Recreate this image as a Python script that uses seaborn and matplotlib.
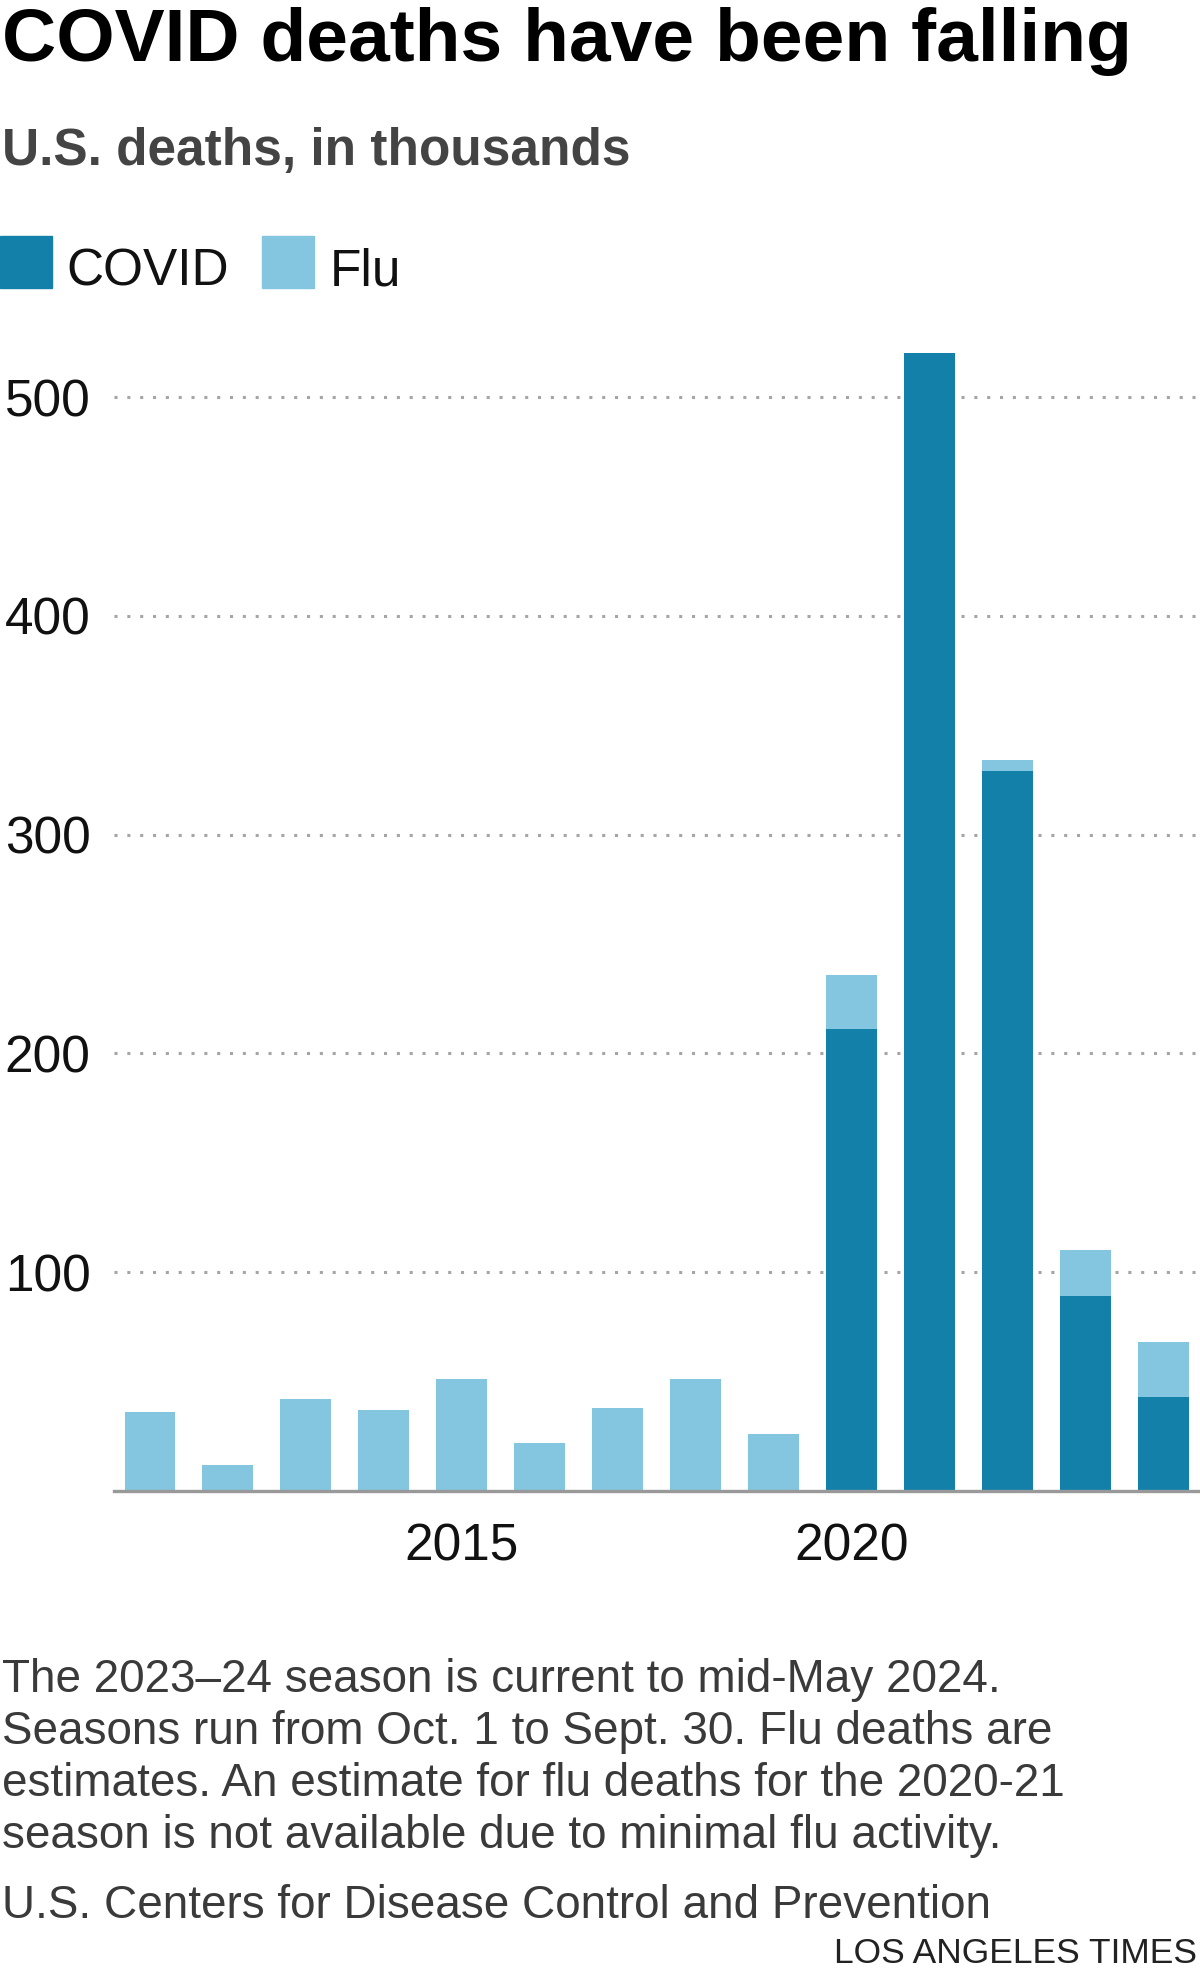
import seaborn as sns
import matplotlib.pyplot as plt
import pandas as pd
from matplotlib.patches import Rectangle

# datos (miles de muertes por temporada)
seasons = ["2010-11", "2011-12", "2012-13", "2013-14", "2014-15", "2015-16", "2016-17",
           "2017-18", "2018-19", "2019-20", "2020-21", "2021-22", "2022-23", "2023-24"]
covid = [0, 0, 0, 0, 0, 0, 0, 0, 0, 211, 520, 329, 89, 43]
flu = [36, 12, 42, 37, 51, 22, 38, 51, 26, 25, 0, 5, 21, 25]
x_tick_labels = ["2015", "2020"]
x_tick_seasons = ["2014-15", "2019-20"]
y_ticks = [100, 200, 300, 400, 500]

notes = [
    "The 2023\u201324 season is current to mid-May 2024.",
    "Seasons run from Oct. 1 to Sept. 30. Flu deaths are",
    "estimates. An estimate for flu deaths for the 2020-21",
    "season is not available due to minimal flu activity.",
]
source = "U.S. Centers for Disease Control and Prevention"

COVID_COLOR = "#1380A9"
FLU_COLOR = "#84C6E0"

df = pd.DataFrame({"season": seasons, "covid": covid, "flu": flu})
df["total"] = df["covid"] + df["flu"]

sns.set_style("white")
plt.rcParams["font.family"] = ["Liberation Sans Narrow", "Liberation Sans", "DejaVu Sans"]

W, H = 1200, 1984
fig = plt.figure(figsize=(W / 100, H / 100), dpi=100)
ax = fig.add_axes([114 / W, 1 - 1491 / H, 1 - 114 / W, (1491 - 338) / H])

# barras apiladas: total (gripe) detras, covid encima
sns.barplot(data=df, x="season", y="total", color=FLU_COLOR, width=0.65,
            saturation=1, errorbar=None, ax=ax, edgecolor="none")
sns.barplot(data=df, x="season", y="covid", color=COVID_COLOR, width=0.65,
            saturation=1, errorbar=None, ax=ax, edgecolor="none")

ax.set_xlim(-0.46, 13.47)
ax.set_ylim(0, 527)
ax.set_xlabel("")
ax.set_ylabel("")
for s in ["top", "right", "left"]:
    ax.spines[s].set_visible(False)
ax.spines["bottom"].set_color("#999999")
ax.spines["bottom"].set_linewidth(2.4)

ax.set_yticks(y_ticks)
ax.set_yticklabels([str(v) for v in y_ticks])
ax.set_xticks([seasons.index(s) for s in x_tick_seasons])
ax.set_xticklabels(x_tick_labels)
ax.tick_params(axis="y", length=0, pad=17, labelsize=37, labelcolor="#111111")
ax.tick_params(axis="x", length=0, pad=23, labelsize=37, labelcolor="#111111")
ax.yaxis.grid(True, color="#a5a5a5", linestyle=(0, (1.0, 3.2)), linewidth=2.2)
ax.xaxis.grid(False)
ax.set_axisbelow(True)

# titulos
fig.text(0.002, 1 - 61 / H, "COVID deaths have been falling", fontsize=54,
         fontweight="bold", color="#000000", va="baseline", ha="left")
fig.text(0.002, 1 - 165 / H, "U.S. deaths, in thousands", fontsize=37,
         fontweight="bold", color="#444444", va="baseline", ha="left")

# leyenda
fig.patches.append(Rectangle((0, 1 - 288 / H), 52 / W, 52 / H, transform=fig.transFigure,
                             color=COVID_COLOR, figure=fig))
fig.patches.append(Rectangle((262 / W, 1 - 288 / H), 52 / W, 52 / H, transform=fig.transFigure,
                             color=FLU_COLOR, figure=fig))
fig.text(66 / W, 1 - 285 / H, "COVID", fontsize=37, color="#111111", va="baseline")
fig.text(330 / W, 1 - 285 / H, "Flu", fontsize=37, color="#111111", va="baseline")

# notas
for i, line in enumerate(notes):
    fig.text(0.002, 1 - (1692 + 52 * i) / H, line, fontsize=33, color="#3a3a3a",
             va="baseline", ha="left")
fig.text(0.002, 1 - 1918 / H, source, fontsize=33, color="#3a3a3a", va="baseline", ha="left")
fig.text(1197 / W, 1 - 1963 / H, "LOS ANGELES TIMES", fontsize=25.5, color="#222222",
         va="baseline", ha="right")

fig.savefig("out.png", dpi=100)
